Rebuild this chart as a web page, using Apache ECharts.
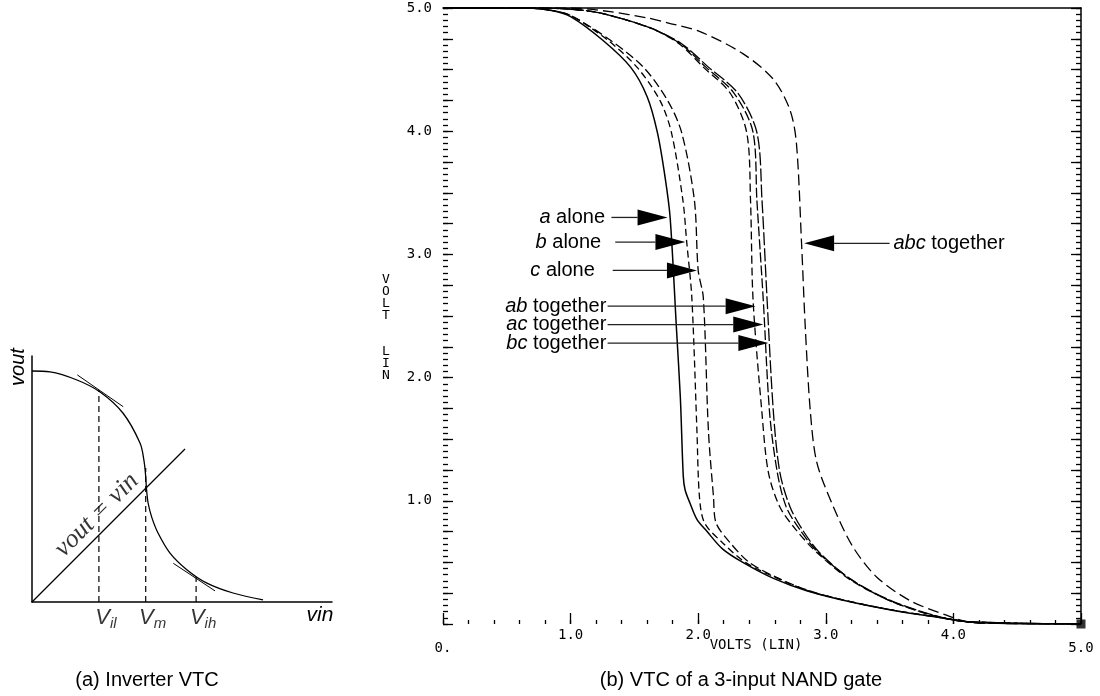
<!DOCTYPE html>
<html>
<head>
<meta charset="utf-8">
<script src="https://cdn.jsdelivr.net/npm/echarts@6/dist/echarts.min.js"></script>
<style>
  html, body { margin: 0; padding: 0; background: #fff; }
  #main { width: 1100px; height: 696px; }
</style>
</head>
<body>
<div id="main"></div>
<script>
// (a) inverter VTC sketch, arbitrary units
const invCurve = [[0, 7.7], [0.6, 7.67], [1.5, 7.4], [2.27, 7.0], [3.03, 6.3], [3.6, 5.3], [3.73, 4.73], [3.78, 4.3],
  [3.82, 3.73], [3.87, 3.3], [3.99, 2.83], [4.2, 2.3], [4.6, 1.63], [5.17, 1.07], [5.83, 0.63], [6.7, 0.3], [7.7, 0.07]];
const invDiagonal = [[0, 0], [5.1, 5.1]];
const invVil = [[2.23, 0], [2.23, 7.07]];
const invVm = [[3.79, 0], [3.79, 4.47]];
const invVih = [[5.47, 0], [5.47, 0.84]];
const invTangentHigh = [[1.51, 7.57], [3.04, 6.51]];
const invTangentLow = [[4.71, 1.29], [6.1, 0.37]];
const invMarkX = [2.23, 3.79, 5.47];
const invMarkSub = ['il', 'm', 'ih'];

// (b) VTC of a 3-input NAND gate (volts)
const aAlone = [[0, 5], [0.65, 5], [0.85, 4.98], [1.0, 4.93], [1.25, 4.74], [1.47, 4.52], [1.6, 4.28], [1.68, 3.99],
  [1.74, 3.63], [1.78, 3.3], [1.83, 2.39], [1.86, 1.84], [1.883, 1.2], [1.897, 1.09], [1.936, 0.98], [1.99, 0.85],
  [2.07, 0.75], [2.19, 0.61], [2.35, 0.5], [2.59, 0.37], [2.85, 0.27], [3.19, 0.18], [3.53, 0.11], [3.84, 0.06],
  [4.2, 0.01], [5, 0]];
const bAlone = [[0, 5], [0.65, 5], [0.85, 4.98], [1.0, 4.94], [1.29, 4.74], [1.52, 4.52], [1.7, 4.25], [1.79, 3.99],
  [1.88, 3.44], [1.91, 3.1], [1.95, 2.65], [1.99, 1.57], [2.01, 1.03], [2.05, 0.82], [2.19, 0.66], [2.37, 0.5],
  [2.6, 0.38], [2.86, 0.27], [3.2, 0.18], [3.54, 0.11], [3.85, 0.06], [4.2, 0.01], [5, 0]];
const cAlone = [[0, 5], [0.65, 5], [0.85, 4.98], [1.0, 4.94], [1.31, 4.74], [1.57, 4.52], [1.76, 4.25], [1.87, 3.99],
  [1.97, 3.44], [2.0, 2.87], [2.04, 2.65], [2.08, 1.57], [2.12, 1.03], [2.14, 0.82], [2.25, 0.66], [2.4, 0.5],
  [2.61, 0.38], [2.87, 0.27], [3.2, 0.18], [3.54, 0.11], [3.85, 0.06], [4.2, 0.01], [5, 0]];
const abTogether = [[0, 5], [0.75, 5], [1.0, 4.99], [1.23, 4.96], [1.62, 4.84], [1.85, 4.71], [2.04, 4.52], [2.25, 4.31],
  [2.38, 3.99], [2.41, 3.44], [2.43, 2.63], [2.5, 1.71], [2.55, 1.23], [2.64, 0.95], [2.77, 0.76], [2.93, 0.58],
  [3.19, 0.36], [3.5, 0.19], [3.84, 0.07], [4.1, 0.02], [5, 0]];
const acTogether = [[0, 5], [0.75, 5], [1.0, 4.99], [1.23, 4.96], [1.62, 4.84], [1.86, 4.71], [2.06, 4.52], [2.28, 4.31],
  [2.43, 3.99], [2.46, 3.44], [2.51, 2.63], [2.56, 1.71], [2.62, 1.23], [2.69, 0.95], [2.8, 0.76], [2.94, 0.58],
  [3.2, 0.36], [3.5, 0.19], [3.84, 0.07], [4.1, 0.02], [5, 0]];
const bcTogether = [[0, 5], [0.75, 5], [1.0, 4.99], [1.23, 4.96], [1.62, 4.84], [1.87, 4.71], [2.08, 4.52], [2.31, 4.31],
  [2.46, 3.99], [2.5, 3.44], [2.54, 2.63], [2.59, 1.71], [2.64, 1.23], [2.72, 0.95], [2.82, 0.76], [2.95, 0.58],
  [3.2, 0.36], [3.51, 0.19], [3.85, 0.07], [4.1, 0.02], [5, 0]];
const abcTogether = [[0, 5], [1.0, 5], [1.31, 4.97], [1.6, 4.92], [1.76, 4.88], [2.01, 4.81], [2.35, 4.63], [2.59, 4.42],
  [2.72, 4.17], [2.77, 3.9], [2.81, 3.09], [2.84, 2.39], [2.88, 1.71], [2.93, 1.31], [3.06, 0.95], [3.21, 0.63],
  [3.4, 0.38], [3.66, 0.19], [3.95, 0.07], [4.15, 0.01], [5, 0]];

// arrow annotations: tail x, tip x, y, label anchor x
const annoItalic = ['a', 'b', 'c', 'ab', 'ac', 'bc', 'abc'];
const annoWord = ['alone', 'alone', 'alone', 'together', 'together', 'together', 'together'];
const annoTail = [1.32, 1.35, 1.33, 1.29, 1.29, 1.29, 3.5];
const annoTip = [1.76, 1.9, 1.99, 2.45, 2.51, 2.55, 2.83];
const annoY = [3.3, 3.1, 2.87, 2.58, 2.43, 2.28, 3.09];
const annoLabelX = [1.27, 1.24, 1.19, 1.28, 1.28, 1.28, 3.53];

const xTickLabels = ['0.', '1.0', '2.0', '3.0', '4.0', '5.0'];
const yTickLabels = ['', '1.0', '2.0', '3.0', '4.0', '5.0'];

const MONO = 'DejaVu Sans Mono';
const SANS = 'Liberation Sans';

const chart = echarts.init(document.getElementById('main'));

function curve(name, data, dash, width) {
  return {
    name: name, type: 'line', xAxisIndex: 0, yAxisIndex: 0, data: data,
    symbol: 'none', smooth: 0.3, silent: true,
    lineStyle: { color: '#000', width: width || 1.3, type: dash }
  };
}

function invLine(data, dash, width, smooth) {
  return {
    type: 'line', xAxisIndex: 2, yAxisIndex: 2, data: data, symbol: 'none', silent: true,
    smooth: smooth || false,
    lineStyle: { color: '#000', width: width || 1.2, type: dash || 'solid' }
  };
}

function renderArrow(params, api) {
  const i = params.dataIndex;
  const tail = api.coord([api.value(0), api.value(2)]);
  const tip = api.coord([api.value(1), api.value(2)]);
  const lab = api.coord([api.value(3), api.value(2)]);
  const dir = tip[0] > tail[0] ? 1 : -1;
  const base = tip[0] - dir * 30;
  return {
    type: 'group',
    children: [
      { type: 'line', shape: { x1: tail[0], y1: tail[1], x2: base, y2: tip[1] }, style: { stroke: '#222', lineWidth: 1.3 } },
      { type: 'polygon', shape: { points: [[tip[0], tip[1]], [base, tip[1] - 8], [base, tip[1] + 8]] }, style: { fill: '#000' } },
      {
        type: 'text', x: lab[0], y: lab[1],
        style: {
          text: '{i|' + annoItalic[i] + '} ' + annoWord[i],
          rich: { i: { fontStyle: 'italic', fontSize: 20, fontFamily: SANS, fill: '#000' } },
          fontSize: 20, fontFamily: SANS, fill: '#000',
          align: dir > 0 ? 'right' : 'left', verticalAlign: 'middle'
        }
      }
    ]
  };
}

const tickStyle = { color: '#000', width: 1.3 };
const lineStyle = { color: '#000', width: 1.5 };

// tick-only axis (optional line, no labels)
function tickAxis(extra, interval, length, showLine) {
  return Object.assign({
    type: 'value', min: 0, max: 5, interval: interval,
    axisLine: { show: !!showLine, onZero: false, lineStyle: lineStyle },
    axisTick: { show: length > 0, inside: true, length: length, interval: 0, lineStyle: tickStyle },
    axisLabel: { show: false }, splitLine: { show: false }
  }, extra);
}

const plotRect = { left: 443, top: 8, width: 638, height: 616 };

const option = {
  animation: false,
  backgroundColor: '#fff',
  grid: [
    plotRect,
    { left: 32, top: 356, width: 300, height: 246 },
    plotRect  // fine-tick overlay of the (b) plot
  ],
  xAxis: [
    {
      gridIndex: 0, type: 'value', position: 'bottom', min: 0, max: 5, interval: 1,
      axisLine: { show: false, onZero: false },
      axisTick: { show: true, inside: true, length: 11, lineStyle: tickStyle },
      splitLine: { show: false },
      axisLabel: {
        margin: 4, color: '#000', fontFamily: MONO, fontSize: 14,
        formatter: function (v) {
          const t = xTickLabels[Math.round(v)];
          return (v === 0 || v === 5) ? '{lo|' + t + '}' : t;
        },
        rich: { lo: { padding: [13, 0, 0, 0], fontFamily: MONO, fontSize: 14, color: '#000' } }
      }
    },
    tickAxis({ gridIndex: 0, position: 'top' }, 1, 0, true),
    {
      gridIndex: 1, type: 'value', min: 0, max: 10,
      axisLine: { show: true, onZero: false, lineStyle: lineStyle },
      axisTick: { show: false }, axisLabel: { show: false }, splitLine: { show: false }
    },
    tickAxis({ gridIndex: 2, position: 'bottom' }, 0.2, 4)
  ],
  yAxis: [
    {
      gridIndex: 0, type: 'value', position: 'left', min: 0, max: 5, interval: 0.25,
      axisLine: { show: false, onZero: false },
      axisTick: { show: true, inside: true, length: 10, interval: 0, lineStyle: tickStyle },
      splitLine: { show: false },
      axisLabel: {
        margin: 11, interval: 0, color: '#000', fontFamily: MONO, fontSize: 14,
        formatter: function (v) { return Number.isInteger(v) ? yTickLabels[v] : ''; }
      }
    },
    tickAxis({ gridIndex: 0, position: 'right' }, 0.25, 10, true),
    {
      gridIndex: 1, type: 'value', min: 0, max: 8.2,
      axisLine: { show: true, onZero: false, lineStyle: lineStyle },
      axisTick: { show: false }, axisLabel: { show: false }, splitLine: { show: false }
    },
    tickAxis({ gridIndex: 2, position: 'left' }, 0.05, 5),
    tickAxis({ gridIndex: 2, position: 'right' }, 0.05, 5)
  ],
  graphic: [
    { type: 'text', x: 386, y: 328, style: { text: 'V\nO\nL\nT\n\n\nL\nI\nN', lineHeight: 12, fontFamily: MONO, fontSize: 13, fill: '#000', align: 'center', verticalAlign: 'middle' } },
    { type: 'text', x: 756, y: 645, style: { text: 'VOLTS (LIN)', fontFamily: MONO, fontSize: 14, fill: '#000', align: 'center', verticalAlign: 'middle' } },
    { type: 'text', x: 18, y: 367, rotation: Math.PI / 2, style: { text: 'vout', fontFamily: SANS, fontStyle: 'italic', fontSize: 20, fill: '#000', align: 'center', verticalAlign: 'middle' } },
    { type: 'text', x: 320, y: 615, style: { text: 'vin', fontFamily: SANS, fontStyle: 'italic', fontSize: 21, fill: '#000', align: 'center', verticalAlign: 'middle' } },
    { type: 'text', x: 147, y: 680, style: { text: '(a) Inverter VTC', fontFamily: SANS, fontSize: 20, fill: '#000', align: 'center', verticalAlign: 'middle' } },
    { type: 'text', x: 741, y: 680, style: { text: '(b) VTC of a 3-input NAND gate', fontFamily: SANS, fontSize: 20, fill: '#000', align: 'center', verticalAlign: 'middle' } }
  ],
  series: [
    curve('a alone', aAlone, 'solid', 1.5),
    curve('b alone', bAlone, [7, 4]),
    curve('c alone', cAlone, [9, 4]),
    curve('ab together', abTogether, [8, 4]),
    curve('ac together', acTogether, [10, 3]),
    curve('bc together', bcTogether, [13, 3]),
    curve('abc together', abcTogether, [11, 5]),
    {
      type: 'custom', xAxisIndex: 0, yAxisIndex: 0, silent: true, renderItem: renderArrow,
      data: annoTail.map(function (t, i) { return [t, annoTip[i], annoY[i], annoLabelX[i]]; }),
      z: 10
    },
    {
      type: 'scatter', xAxisIndex: 0, yAxisIndex: 0, data: [[5, 0]], symbol: 'rect', symbolSize: 9,
      itemStyle: { color: '#000' }, silent: true, z: 11
    },
    // (a) panel
    invLine(invCurve, 'solid', 1.3, 0.35),
    invLine(invDiagonal, 'solid', 1.3),
    invLine(invVil, [6, 4]),
    invLine(invVm, [6, 4]),
    invLine(invVih, [6, 4]),
    invLine(invTangentHigh, 'solid', 1),
    invLine(invTangentLow, 'solid', 1),
    {
      type: 'scatter', xAxisIndex: 2, yAxisIndex: 2, symbolSize: 0, silent: true,
      data: invMarkX.map(function (x) { return [x, 0]; }),
      label: {
        show: true, position: 'bottom', distance: 2, offset: [7, 0],
        formatter: function (p) { return '{v|V}{s|' + invMarkSub[p.dataIndex] + '}'; },
        rich: {
          v: { fontFamily: SANS, fontStyle: 'italic', fontSize: 22, color: '#000' },
          s: { fontFamily: SANS, fontStyle: 'italic', fontSize: 15, color: '#000', padding: [12, 0, 0, 0] }
        }
      }
    },
    {
      type: 'scatter', xAxisIndex: 2, yAxisIndex: 2, symbolSize: 0, silent: true,
      data: [[2.16, 2.9]],
      label: {
        show: true, position: 'inside', rotate: 45, formatter: 'vout = vin',
        fontFamily: 'Liberation Serif', fontStyle: 'italic', fontSize: 26, color: '#000'
      }
    }
  ]
};

chart.setOption(option);
</script>
</body>
</html>
